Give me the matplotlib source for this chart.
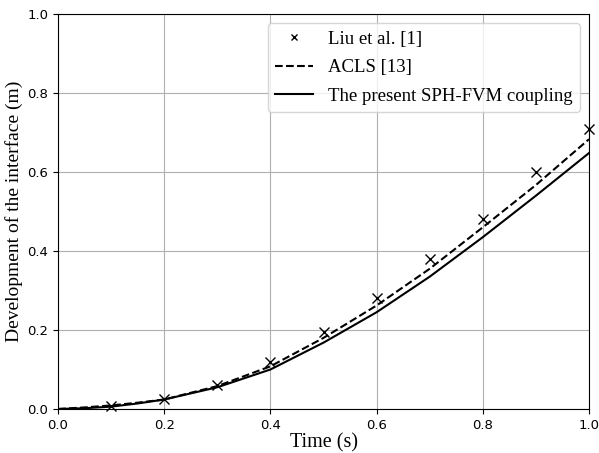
import numpy as np
import matplotlib
matplotlib.use('Agg')
from matplotlib import pyplot as plt

# Liu et al. [1]
t_liu = [0.1, 0.2, 0.3, 0.4, 0.5, 0.6, 0.7, 0.8, 0.9, 1.0]
h_liu = [0.008, 0.025, 0.062, 0.12, 0.195, 0.28, 0.38, 0.48, 0.60, 0.71]

# ACLS [13]
t_acls = [0.0, 0.05, 0.1, 0.15, 0.2, 0.3, 0.4, 0.5, 0.6, 0.7, 0.8, 0.9, 1.0]
h_acls = [0.0, 0.004, 0.009, 0.016, 0.024, 0.058, 0.108, 0.180, 0.262, 0.355, 0.460, 0.567, 0.683]

# present SPH-FVM coupling
t_sph = [0.0, 0.05, 0.1, 0.15, 0.2, 0.3, 0.4, 0.5, 0.6, 0.7, 0.8, 0.9, 1.0]
h_sph = [0.0, 0.002, 0.006, 0.014, 0.024, 0.055, 0.100, 0.168, 0.245, 0.335, 0.435, 0.540, 0.648]

fig = plt.figure(figsize=(5.99, 4.53), dpi=100)
ax = fig.add_axes([58/599, 1-409/453, 531/599, 395/453])

ax.plot(t_liu, h_liu, 'kx', ms=6.5, mew=1.0, label='Liu et al. [1]', clip_on=False, zorder=3)
ax.plot(t_acls, h_acls, 'k--', lw=1.5, label='ACLS [13]')
ax.plot(t_sph, h_sph, 'k-', lw=1.5, label='The present SPH-FVM coupling')

ax.set_xlim(0, 1)
ax.set_ylim(0, 1)
ax.set_xticks(np.arange(0, 1.01, 0.2))
ax.set_yticks(np.arange(0, 1.01, 0.2))
ax.grid(True, color='#b0b0b0', lw=0.8)
ax.tick_params(labelsize=9.5)

ax.set_xlabel('Time (s)', family='Liberation Serif', size=14.5, labelpad=1)
ax.set_ylabel('Development of the interface (m)', family='Liberation Serif', size=14, labelpad=3)
ax.legend(prop={'family': 'Liberation Serif', 'size': 13.5}, loc='upper right',
          borderaxespad=0.5, handlelength=2.0, markerscale=0.7, labelspacing=0.6)

fig.savefig('out.png', dpi=100)
